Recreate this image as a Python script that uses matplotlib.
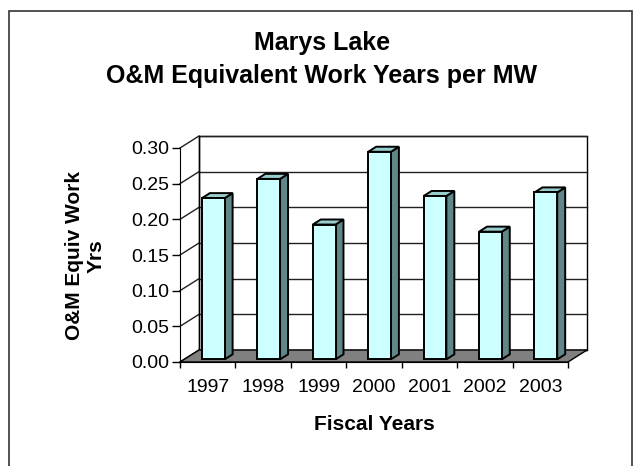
import matplotlib
matplotlib.use('Agg')
import matplotlib.pyplot as plt
from matplotlib.patches import Polygon, Rectangle

plt.rcParams['font.family'] = ['Liberation Sans', 'DejaVu Sans']

years = ['1997', '1998', '1999', '2000', '2001', '2002', '2003']
work_years = [0.226, 0.253, 0.189, 0.291, 0.229, 0.179, 0.234]
yticks = [0.00, 0.05, 0.10, 0.15, 0.20, 0.25, 0.30]

W, H = 634, 466
fig = plt.figure(figsize=(W/100, H/100), dpi=100)
ax = fig.add_axes([180/W, (H-362)/H, 388/W, 214/H])
n = len(years)
ymax = 0.30
ax.set_xlim(0, n)
ax.set_ylim(0, ymax)

# depth offset (fake 3d) in data units
dx = 19/388*n
dy = 12/214*ymax

# back wall + gridlines
ax.add_patch(Rectangle((dx, dy), n, ymax, facecolor='white', edgecolor='black', lw=1, clip_on=False, zorder=1))
for t in yticks:
    ax.plot([dx, n+dx], [t+dy, t+dy], color='#202020', lw=1, clip_on=False, zorder=1)
    ax.plot([0, dx], [t, t+dy], color='#202020', lw=1, clip_on=False, zorder=1)
ax.plot([dx, dx], [dy, ymax+dy], color='black', lw=1, clip_on=False, zorder=1)

# floor
ax.add_patch(Polygon([(0, 0), (n, 0), (n+dx, dy), (dx, dy)], closed=True,
                     facecolor='#808080', edgecolor='black', lw=1, clip_on=False, zorder=2))

# bars
bw = 0.41
f0, f1 = 0.22, 0.64
for i, v in enumerate(work_years):
    x0 = i + 0.32 + f0*dx
    xr = x0 + bw
    b0 = f0*dy
    ddx = (f1-f0)*dx
    ddy = (f1-f0)*dy
    side = [(xr, b0), (xr+ddx, b0+ddy), (xr+ddx, v+b0+ddy), (xr, v+b0)]
    top = [(x0, v+b0), (xr, v+b0), (xr+ddx, v+b0+ddy), (x0+ddx, v+b0+ddy)]
    ax.add_patch(Polygon(side, closed=True, facecolor='#5f8787', edgecolor='black', lw=1.4, clip_on=False, zorder=3))
    ax.add_patch(Polygon(top, closed=True, facecolor='#99cccc', edgecolor='black', lw=1.4, clip_on=False, zorder=3))
    ax.add_patch(Rectangle((x0, b0), bw, v, facecolor='#ccffff', edgecolor='black', lw=1.4, clip_on=False, zorder=4))

ax.set_facecolor('none')
for s in ['top', 'right']:
    ax.spines[s].set_visible(False)
ax.spines['left'].set_zorder(5)
ax.spines['bottom'].set_zorder(5)

ax.set_yticks(yticks)
ax.set_yticklabels(['%.2f' % t for t in yticks])
ax.tick_params(axis='y', direction='out', length=6, width=1, pad=2, labelsize=14)
ax.set_xticks([i + 0.5 for i in range(n)])
ax.set_xticklabels(years)
ax.set_xticks(range(n+1), minor=True)
ax.tick_params(axis='x', which='major', length=0, pad=12, labelsize=14)
ax.tick_params(axis='x', which='minor', direction='out', length=4, width=1)

fig.text(322/W, 1-50/H, 'Marys Lake', ha='center', va='baseline', fontsize=18, fontweight='bold')
fig.text(322/W, 1-83/H, 'O&M Equivalent Work Years per MW', ha='center', va='baseline', fontsize=18, fontweight='bold')
fig.text(85/W, 1-256/H, 'O&M Equiv Work\nYrs', ha='center', va='center', rotation=90,
         fontsize=15, fontweight='bold', multialignment='center', linespacing=1.15)
fig.text(374/W, 1-425/H, 'Fiscal Years', ha='center', va='center', fontsize=15, fontweight='bold')

# outer chart frame
fig.add_artist(Rectangle((9/W, -0.02), 623/W, 1-11/H+0.02, transform=fig.transFigure,
                         fill=False, edgecolor='#333333', lw=1.2))

fig.savefig('out.png', dpi=100)
